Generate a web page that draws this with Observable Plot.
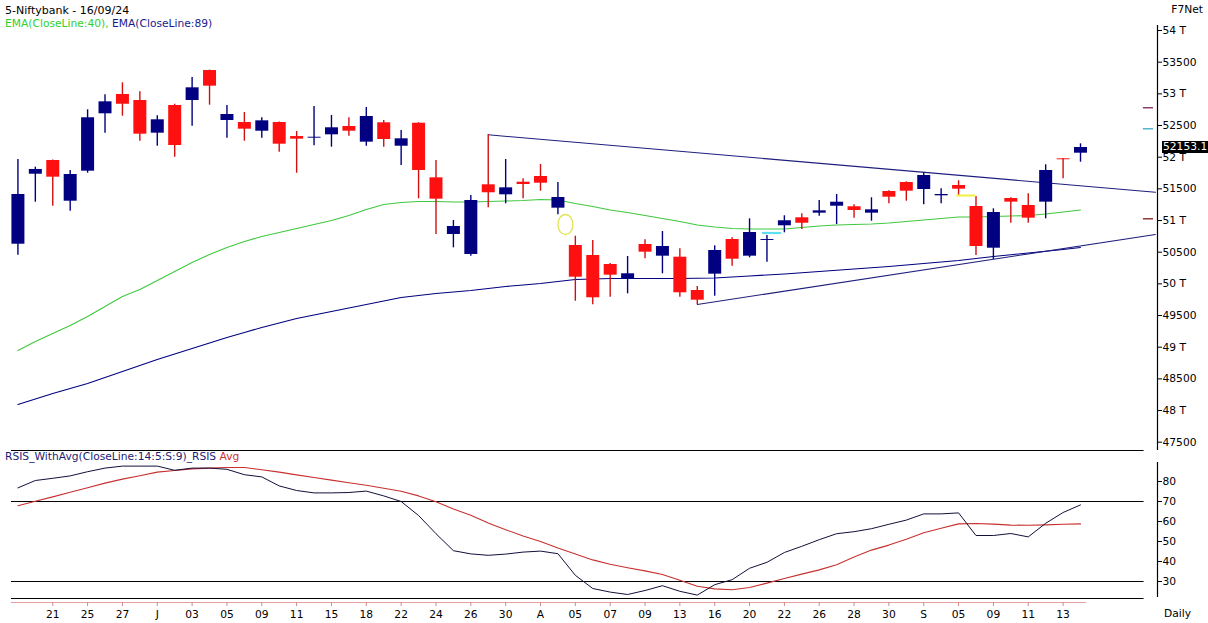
<!DOCTYPE html>
<html><head><meta charset="utf-8">
<script src="https://cdn.jsdelivr.net/npm/d3@7"></script>
<script src="https://cdn.jsdelivr.net/npm/@observablehq/plot@0.6"></script>
<style>
html,body{margin:0;padding:0;background:#fff;}
#wrap{position:relative;width:1208px;height:623px;overflow:hidden;font-family:"DejaVu Sans",Verdana,sans-serif;font-size:10.7px;color:#000;}
.t{position:absolute;white-space:nowrap;line-height:1;}
#wrap svg{position:absolute;left:0;}
</style></head><body><div id="wrap"></div>
<script>
// ---------- data ----------
const title = "5-Niftybank - 16/09/24";
const dayLabels = ["21","25","27","J","03","05","09","11","15","18","22","24","26","30","A","05","07","09","13","16","20","22","26","28","30","S","05","09","11","13"];
const open  = [50626,51731,51948,51305,51779,52685,52990,52895,52379,52816,52895,53368,52579,52548,52410,52548,52326,52300,52353,52484,52237,52543,52173,52536,51674,50779,50464,51564,51406,51605,51695,51195,50606,50448,50306,50085,50621,50437,50421,49895,50153,50700,50437,50685,50917,51043,51116,51226,51217,51116,51458,51600,51490,51390,51553,51221,50563,51348,51237,51290,51974,52063];
const high  = [51963,51842,51955,51790,52748,52985,53174,53032,52653,52836,53258,53375,52816,52705,52622,52555,52405,52800,52658,52622,52784,52579,52421,52545,51948,51000,51395,52353,51963,51659,51884,51600,50752,50685,50320,50432,50695,50827,50553,49958,50601,50727,51027,50764,51075,51106,51316,51411,51248,51359,51470,51610,51753,51501,51627,51379,51185,51360,51422,51880,51980,52211];
const low   = [50452,51289,51226,51147,51747,52379,52647,52252,52173,52000,52489,52821,52300,52252,52300,52079,51747,52180,52158,52331,52173,52158,51869,51343,50779,50569,50437,51201,51264,51343,51463,51090,49726,49669,49789,49843,50396,50159,49789,49674,49805,50279,50411,50342,50806,50858,51068,50937,51037,50989,51264,51305,51248,51264,51395,50448,50384,50958,50958,51027,51659,51921];
const close = [51411,51806,51684,51727,52622,52874,52836,52363,52590,52184,53095,53121,52674,52442,52574,52205,52284,52315,52464,52410,52642,52279,52290,51790,51337,50906,51316,51438,51516,51569,51589,51363,50105,49780,50137,50159,50500,50590,49859,49742,50527,50389,50811,50700,50996,50957,51153,51289,51158,51169,51368,51463,51711,51411,51495,50590,51127,51290,51037,51790,51959,52153.1];
const ema40 = [48948,49090,49216,49343,49485,49643,49800,49911,50053,50195,50337,50463,50574,50669,50748,50811,50874,50937,51000,51079,51174,51253,51284,51300,51300,51292,51292,51300,51308,51316,51332,51324,51269,51221,51166,51127,51079,51032,50984,50929,50898,50874,50866,50866,50866,50890,50913,50929,50937,50945,50961,50984,51008,51032,51056,51056,51063,51071,51079,51103,51134,51166];
const ema89 = [48095,48182,48269,48348,48427,48522,48616,48711,48806,48893,48979,49066,49153,49232,49311,49382,49453,49508,49564,49619,49674,49729,49785,49816,49848,49871,49895,49927,49958,49982,50006,50037,50069,50077,50085,50085,50085,50085,50085,50089,50092,50108,50124,50140,50156,50176,50195,50216,50235,50255,50274,50298,50321,50345,50369,50400,50432,50460,50487,50516,50542,50574];
const rsi = [76.8,80.5,81.6,82.8,84.9,86.7,87.7,87.7,87.7,85.6,86.7,86.7,86.1,83.4,82.3,77.8,75.5,74.3,74.3,74.5,75.2,72.8,70.0,63.0,53.9,45.4,43.8,43.1,43.7,44.7,45.2,43.9,33.1,26.5,24.7,23.5,25.5,27.9,25.1,23.2,28.4,30.9,36.6,39.6,44.5,47.6,50.9,53.9,54.9,56.4,58.6,60.7,63.8,63.8,64.3,53.0,53.0,54.0,52.3,59.1,64.5,68.3];
const rsiAvg = [67.9,70.1,72.3,74.6,76.9,79.2,81.2,82.9,84.7,85.5,86.3,86.7,87,87,85.9,84.7,83.3,82,80.7,79.4,78.1,76.6,75.1,72.8,69.9,66.3,63.1,59.3,55.9,52.8,50,46.7,43.8,40.8,38.6,36.9,35.3,33.5,30.6,27.6,26.3,25.9,27,29.2,31.5,33.7,35.8,38.4,42.3,45.7,48.2,51.1,54.4,56.6,58.8,59,58.7,58.2,58.1,58.3,58.6,58.8];
// trendlines: [candle index, price]
const upperTrendIdx = [27, 65.3];
const upperTrendPrice = [52353, 51447];
const lowerTrendIdx = [39, 65.3];
const lowerTrendPrice = [49674, 50779];
// chart markers
const markIdx = [31.43];           // yellow ring
const markPrice = [50937];
const dashIdx = [43.3, 54.45];     // small level dashes in the chart
const dashPrice = [50803, 51395];
const dashColor = ["#5fe0f0", "#f0f050"];
const sideLevels = [52780, 52448, 51027]; // marks beside the price axis
const sideColors = ["#80205a", "#3aa8c8", "#801818"];
const priceTicks = d3.range(47500, 54001, 500);
const rsiTicks = [30, 40, 50, 60, 70, 80];
const rsiLevels = [70, 30];

// ---------- layout ----------
const FONT = '"DejaVu Sans", Verdana, sans-serif';
const XD = [-1, 65.42];
const BULL = "#000080", BEAR = "#ff1010", BEARWICK = "#d01010";
const wrap = document.getElementById("wrap");
const idx = d3.range(close.length);
const candles = idx.map(i => ({i, o: open[i], h: high[i], l: low[i], c: close[i], up: close[i] >= open[i]}));
const row = (arr) => arr.map((v, i) => ({i, v}));
const pairs = (a, b) => a.map((v, k) => ({i: v, v: b[k]}));

const ellipse = {draw(ctx) { const rx = 7.5, ry = 10, k = 0.5523;
  ctx.moveTo(rx, 0);
  ctx.bezierCurveTo(rx, ry*k, rx*k, ry, 0, ry);
  ctx.bezierCurveTo(-rx*k, ry, -rx, ry*k, -rx, 0);
  ctx.bezierCurveTo(-rx, -ry*k, -rx*k, -ry, 0, -ry);
  ctx.bezierCurveTo(rx*k, -ry, rx, -ry*k, rx, 0);
  ctx.closePath(); }};

const pricePlot = Plot.plot({
  width: 1208, height: 455, marginLeft: 0, marginRight: 51, marginTop: 25, marginBottom: 5,
  style: {fontFamily: FONT, fontSize: "10.7px", color: "#000", background: "transparent", overflow: "visible"},
  x: {domain: XD, axis: null},
  y: {domain: [47369, 54079], axis: null, label: null},
  color: {type: "identity"},
  marks: [
    Plot.line(row(ema40), {x: "i", y: "v", stroke: "#3fc83f", strokeWidth: 1.1}),
    Plot.line(row(ema89), {x: "i", y: "v", stroke: "#000080", strokeWidth: 1.1}),
    Plot.line(pairs(upperTrendIdx, upperTrendPrice), {x: "i", y: "v", stroke: "#1e1e7e", strokeWidth: 1.1}),
    Plot.line(pairs(lowerTrendIdx, lowerTrendPrice), {x: "i", y: "v", stroke: "#1e1e7e", strokeWidth: 1.1}),
    Plot.ruleX(candles, {x: "i", y1: "l", y2: "h", stroke: d => d.up ? BULL : BEARWICK, strokeWidth: 1.4}),
    Plot.ruleX(candles, {x: "i", y1: "o", y2: "c", stroke: d => d.up ? BULL : BEAR, strokeWidth: 13}),
    Plot.dot(pairs(markIdx, markPrice), {x: "i", y: "v", symbol: ellipse, stroke: "#e4e45a", strokeWidth: 1.4, fill: "none"}),
    Plot.ruleY(dashIdx.map((v, k) => ({i: v, p: dashPrice[k], c: dashColor[k]})), {y: "p", x1: d => d.i - 0.55, x2: d => d.i + 0.55, stroke: "c", strokeWidth: 2.2}),
    Plot.ruleY(sideLevels.map((p, k) => ({p, c: sideColors[k]})), {y: "p", x1: XD[1] - 0.81, x2: XD[1] - 0.23, stroke: "c", strokeWidth: 1.3}),
    Plot.axisY({anchor: "right", ticks: priceTicks, tickSize: 4, tickPadding: 1, label: null,
      tickFormat: d => d % 1000 === 0 ? `${d / 1000} T` : `${d}`}),
    Plot.ruleX([XD[1]], {stroke: "#000", strokeWidth: 1.2})
  ]
});
pricePlot.style.top = "0px";
wrap.appendChild(pricePlot);

const rsiPlot = Plot.plot({
  width: 1208, height: 178, marginLeft: 0, marginRight: 51, marginTop: 5, marginBottom: 21,
  style: {fontFamily: FONT, fontSize: "10.7px", color: "#000", background: "transparent", overflow: "visible"},
  x: {domain: XD, axis: null},
  y: {domain: [19.5, 95.5], axis: null, label: null},
  marks: [
    Plot.ruleY([95.5, ...rsiLevels, 21.5], {x1: -0.37, x2: 64.65, stroke: "#000", strokeWidth: 1.1}),
    Plot.line(row(rsiAvg), {x: "i", y: "v", stroke: "#c83030", strokeWidth: 1.1}),
    Plot.line(row(rsi), {x: "i", y: "v", stroke: "#10103a", strokeWidth: 1}),
    Plot.ruleY([19.5], {x1: -0.37, x2: 61.35, stroke: "#e4a0a0", strokeWidth: 1.2}),
    Plot.ruleX(dayLabels.map((d, k) => 2 + 2 * k), {x: d => d, y1: 19.5, y2: 17.5, stroke: "#d08888"}),
    Plot.text(dayLabels.map((d, k) => ({i: 2 + 2 * k, d})), {x: "i", y: 19.5, text: "d", dy: 12.5, fill: "#000"}),
    Plot.axisY({anchor: "right", ticks: rsiTicks, tickSize: 4, tickPadding: 1, label: null}),
    Plot.ruleX([XD[1]], {y1: 89.5, y2: 22, stroke: "#000", strokeWidth: 1.2})
  ]
});
rsiPlot.style.top = "445px";
wrap.appendChild(rsiPlot);

// ---------- texts ----------
function addText(html, css) { const d = document.createElement("div"); d.className = "t"; d.innerHTML = html; Object.assign(d.style, css); wrap.appendChild(d); return d; }
addText(title, {left: "5px", top: "5px", fontSize: "11px"});
addText('<span style="color:#2fd02f">EMA(CloseLine:40),</span> <span style="color:#1a1a8c">EMA(CloseLine:89)</span>', {left: "5px", top: "18.5px", fontSize: "10.7px"});
addText("F7Net", {right: "5px", top: "5px", fontSize: "10.7px"});
addText('<span style="color:#1c1c78">RSIS_WithAvg(CloseLine:14:5:S:9)_RSIS</span> <span style="color:#d03030">Avg</span>', {left: "5px", top: "452px", fontSize: "10.7px"});
addText("Daily", {left: "1164px", top: "609px", fontSize: "10.7px"});
const yLast = pricePlot.scale("y").apply(close[close.length - 1]);
addText(close[close.length - 1].toFixed(1), {left: "1162px", top: (yLast - 6) + "px", height: "12px", width: "46px", background: "#000", color: "#fff", fontSize: "10.7px", lineHeight: "12px", paddingLeft: "1px"});
</script></body></html>
